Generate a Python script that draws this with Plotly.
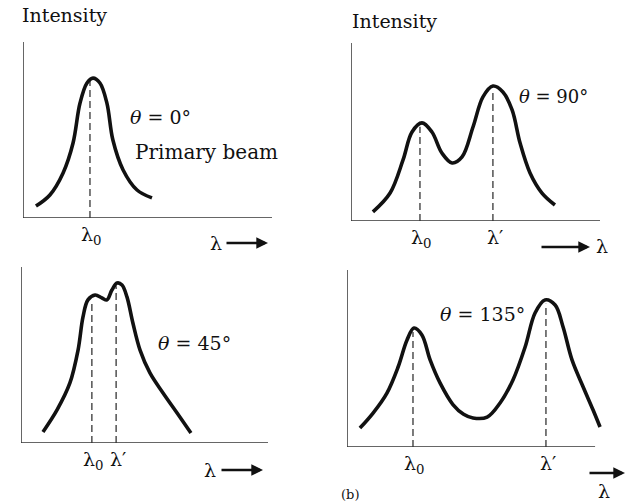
import plotly.graph_objects as go

W, H = 626, 504

# ---------------- data (relative wavelength / intensity units, 0-10) ----------------
p1_x = [0.52, 1.08, 1.61, 2.01, 2.29, 2.57, 2.81, 3.09, 3.37, 3.61, 4.02, 4.58, 5.18]
p1_y = [0.68, 1.31, 2.56, 4.26, 6.53, 7.67, 7.95, 7.67, 6.53, 4.43, 2.73, 1.59, 1.14]
p1_lines = [2.69]
p1_tops = [7.95]

p2_x = [0.88, 1.57, 2.09, 2.45, 2.85, 3.25, 3.65, 4.06, 4.46, 4.90, 5.30, 5.70, 6.10, 6.47, 6.79, 7.19, 7.67, 8.19]
p2_y = [0.51, 1.57, 3.43, 5.00, 5.51, 5.00, 3.82, 3.26, 3.60, 5.28, 6.97, 7.58, 7.25, 6.24, 4.38, 2.70, 1.57, 0.90]
p2_lines = [2.77, 5.70]
p2_tops = [5.3, 7.4]

p3_x = [0.89, 1.46, 1.98, 2.31, 2.51, 2.71, 3.00, 3.28, 3.48, 3.68, 3.89, 4.09, 4.29, 4.53, 4.82, 5.22, 5.75, 6.32, 6.88]
p3_y = [0.63, 1.88, 3.41, 5.28, 7.16, 8.13, 8.41, 8.24, 8.13, 8.69, 9.09, 8.98, 8.30, 6.82, 5.28, 3.98, 2.84, 1.70, 0.57]
p3_lines = [2.87, 3.85]
p3_tops = [8.1, 8.9]

p4_x = [0.52, 1.05, 1.61, 2.06, 2.42, 2.70, 3.02, 3.35, 3.75, 4.27, 4.70, 5.08, 5.65, 6.17, 6.69, 7.18, 7.58, 7.98, 8.39, 8.71, 9.07, 9.52, 9.92, 10.20]
p4_y = [1.07, 1.92, 3.05, 4.52, 6.05, 6.72, 6.33, 4.92, 3.62, 2.40, 1.85, 1.64, 1.69, 2.49, 3.79, 5.65, 7.57, 8.31, 8.02, 6.78, 4.92, 3.39, 2.09, 1.13]
p4_lines = [2.66, 8.02]
p4_tops = [6.5, 8.1]

angle_labels = ["<i>θ</i> = 0°", "<i>θ</i> = 90°", "<i>θ</i> = 45°", "<i>θ</i> = 135°"]
tick_labels = [["λ<sub>0</sub>"], ["λ<sub>0</sub>", "λ′"], ["λ<sub>0</sub>", "λ′"], ["λ<sub>0</sub>", "λ′"]]

# ---------------- layout helpers ----------------
def fx(px):
    return px / W

def fy(py):
    return 1 - py / H

# panel boxes in pixels: (left, right_of_range, top, bottom, xmax)
panels = [
    (23, 272, 42, 218, 10.0),
    (351, 600, 43, 221, 10.0),
    (21, 268, 267, 443, 10.0),
    (347, 605, 270, 447, 10.4),
]

FONT = "DejaVu Serif"
INK = "#111111"

fig = go.Figure()
series = [(p1_x, p1_y, p1_lines, p1_tops), (p2_x, p2_y, p2_lines, p2_tops),
          (p3_x, p3_y, p3_lines, p3_tops), (p4_x, p4_y, p4_lines, p4_tops)]

layout_axes = {}
shapes = []
annotations = []
for i, ((xs, ys, lines, tops), (l, r, t, b, xmax)) in enumerate(zip(series, panels), start=1):
    xa = "x" if i == 1 else f"x{i}"
    ya = "y" if i == 1 else f"y{i}"
    fig.add_trace(go.Scatter(x=xs, y=ys, mode="lines", xaxis=xa, yaxis=ya,
                             line=dict(color=INK, width=3.6, shape="spline", smoothing=1.0),
                             hoverinfo="skip", showlegend=False))
    for lx, ly in zip(lines, tops):
        fig.add_trace(go.Scatter(x=[lx, lx], y=[0, ly], mode="lines", xaxis=xa, yaxis=ya,
                                 line=dict(color=INK, width=1.1, dash="7px,4px"),
                                 hoverinfo="skip", showlegend=False))
    axkey = "xaxis" if i == 1 else f"xaxis{i}"
    aykey = "yaxis" if i == 1 else f"yaxis{i}"
    layout_axes[axkey] = dict(domain=[fx(l), fx(r)], range=[0, xmax], visible=False, anchor=ya)
    layout_axes[aykey] = dict(domain=[fy(b), fy(t)], range=[0, 10], visible=False, anchor=xa)
    # axis lines
    shapes.append(dict(type="line", xref=xa, yref=ya, x0=0, y0=0, x1=10, y1=0,
                       line=dict(color="#333333", width=1.5)))
    shapes.append(dict(type="line", xref=xa, yref=ya, x0=0, y0=0, x1=0, y1=10,
                       line=dict(color="#333333", width=1.5)))
    # tick labels under dashed lines
    for lx, txt in zip(lines, tick_labels[i - 1]):
        annotations.append(dict(x=lx, y=0, xref=xa, yref=ya, text=txt, showarrow=False,
                                yanchor="top", yshift=-3, xshift=2,
                                font=dict(family=FONT, size=19, color=INK)))

fig.update_layout(**layout_axes)

def txt(x, y, s, size=17, xanchor="left", yanchor="middle"):
    annotations.append(dict(x=fx(x), y=fy(y), xref="paper", yref="paper", text=s,
                            showarrow=False, xanchor=xanchor, yanchor=yanchor,
                            font=dict(family=FONT, size=size, color=INK)))

txt(20, 15, "Intensity", 19)
txt(350, 21, "Intensity", 19)
txt(128, 117, angle_labels[0], 19)
txt(133, 152, "Primary beam", 20)
txt(517, 97, angle_labels[1], 18)
txt(156, 343, angle_labels[2], 19)
txt(438, 314, angle_labels[3], 19)

# lambda with arrows
txt(208, 243, "λ", 19)
txt(202, 470, "λ", 19)
txt(594, 246, "λ", 19)
txt(596, 504, "λ", 19, yanchor="bottom")

def arrow(x0, x1, y):
    annotations.append(dict(x=fx(x1), y=fy(y), ax=x0 - x1, ay=0, xref="paper", yref="paper",
                            axref="pixel", ayref="pixel", text="", showarrow=True,
                            arrowhead=2, arrowsize=0.9, arrowwidth=2.6, arrowcolor=INK))

arrow(225, 268, 243)
arrow(220, 263, 470)
arrow(540, 590, 247)
arrow(588, 626, 473)

txt(350, 504, "(b)", 13, xanchor="center", yanchor="bottom")

fig.update_layout(width=W, height=H, margin=dict(l=0, r=0, t=0, b=0),
                  paper_bgcolor="white", plot_bgcolor="white",
                  shapes=shapes, annotations=annotations)

fig.write_html("out.html")
